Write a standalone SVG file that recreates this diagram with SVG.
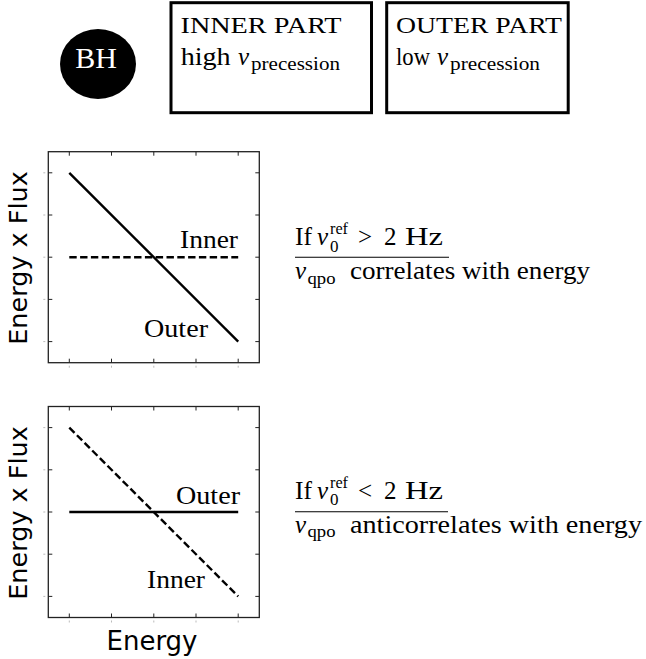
<svg xmlns="http://www.w3.org/2000/svg" width="646" height="659" viewBox="0 0 646 659">
<style>
.serif{font-family:"Liberation Serif","Times New Roman",serif;fill:#000}
.it{font-style:italic}
.sans{font-family:"DejaVu Sans","Liberation Sans",sans-serif;fill:#000}
.box{fill:#fff;stroke:#000;stroke-width:3}
.frame{fill:none;stroke:#222;stroke-width:1.3}
.tick{stroke:#222;stroke-width:1}
.otick{stroke:#aaa;stroke-width:0.8}
.solid{stroke:#000;stroke-width:2.4;fill:none;stroke-linecap:butt}
.dash{stroke:#000;stroke-width:2.4;fill:none;stroke-dasharray:7.4 3.4}
.frac{stroke:#000;stroke-width:1.1}
</style>
<defs>
<g id="ticks">
<path class="tick" d="M69.3,0v4M111.5,0v4M153.8,0v4M196,0v4M238.2,0v4M69.3,211v-4M111.5,211v-4M153.8,211v-4M196,211v-4M238.2,211v-4M48.3,21.1h4M48.3,63.3h4M48.3,105.5h4M48.3,147.7h4M48.3,189.9h4M259.3,21.1h-4M259.3,63.3h-4M259.3,105.5h-4M259.3,147.7h-4M259.3,189.9h-4"/>
<path class="otick" d="M69.3,214v2M111.5,214v2M153.8,214v2M196,214v2M238.2,214v2M45.3,21.1h-2M45.3,63.3h-2M45.3,105.5h-2M45.3,147.7h-2M45.3,189.9h-2"/>
<rect class="frame" x="48.3" y="0" width="211" height="211"/>
</g>
</defs>

<g id="bh">
<ellipse cx="98" cy="64" rx="38" ry="35" fill="#000"/>
<text class="serif" x="96" y="68" font-size="30" text-anchor="middle" style="fill:#fff">BH</text>
</g>

<g id="inner-part">
<rect class="box" x="171" y="2.7" width="200.5" height="110"/>
<text class="serif" x="180.5" y="33.3" font-size="24" textLength="161" lengthAdjust="spacingAndGlyphs">INNER PART</text>
<text class="serif" x="180.7" y="65" font-size="25" textLength="50" lengthAdjust="spacingAndGlyphs">high</text>
<text class="serif it" x="238" y="65" font-size="25">ν</text>
<text class="serif" x="251" y="69.5" font-size="18" textLength="89" lengthAdjust="spacingAndGlyphs">precession</text>
</g>

<g id="outer-part">
<rect class="box" x="386.7" y="2.7" width="181.5" height="110"/>
<text class="serif" x="396" y="33.3" font-size="24" textLength="166" lengthAdjust="spacingAndGlyphs">OUTER PART</text>
<text class="serif" x="396" y="65" font-size="25" textLength="34" lengthAdjust="spacingAndGlyphs">low</text>
<text class="serif it" x="437" y="65" font-size="25">ν</text>
<text class="serif" x="450" y="69.5" font-size="18" textLength="90" lengthAdjust="spacingAndGlyphs">precession</text>
</g>

<g id="plot1">
<use href="#ticks" transform="translate(0,151.7)"/>
<line class="solid" x1="69.3" y1="172.8" x2="238.2" y2="341.6"/>
<line class="dash" x1="69.3" y1="257.2" x2="238.2" y2="257.2"/>
<text class="serif" x="180" y="247.7" font-size="25" textLength="58" lengthAdjust="spacingAndGlyphs">Inner</text>
<text class="serif" x="144" y="336.7" font-size="25" textLength="64" lengthAdjust="spacingAndGlyphs">Outer</text>
<text class="sans" transform="translate(27,258) rotate(-90)" font-size="25.5" text-anchor="middle">Energy x Flux</text>
</g>

<g id="plot2">
<use href="#ticks" transform="translate(0,406.5)"/>
<line class="dash" x1="69.3" y1="427.6" x2="238.2" y2="596.4"/>
<line class="solid" x1="69.3" y1="512" x2="238.2" y2="512"/>
<text class="serif" x="176" y="504.3" font-size="25" textLength="64" lengthAdjust="spacingAndGlyphs">Outer</text>
<text class="serif" x="147" y="588.3" font-size="25" textLength="58" lengthAdjust="spacingAndGlyphs">Inner</text>
<text class="sans" transform="translate(27,513) rotate(-90)" font-size="25.5" text-anchor="middle">Energy x Flux</text>
<text class="sans" x="152" y="650" font-size="26" text-anchor="middle">Energy</text>
</g>

<g id="note1">
<text class="serif" x="295" y="245.3" font-size="25" textLength="17" lengthAdjust="spacingAndGlyphs">If</text>
<text class="serif it" x="317" y="245.3" font-size="25">ν</text>
<text class="serif" x="330" y="234" font-size="17" textLength="18" lengthAdjust="spacingAndGlyphs">ref</text>
<text class="serif" x="330" y="251.5" font-size="17">0</text>
<text class="serif" x="358" y="245.3" font-size="25">&gt;</text>
<text class="serif" x="384" y="245.3" font-size="25">2</text>
<text class="serif" x="405" y="245.3" font-size="25" textLength="38" lengthAdjust="spacingAndGlyphs">Hz</text>
<line class="frac" x1="295" y1="257.3" x2="449" y2="257.3"/>
<text class="serif it" x="295" y="279" font-size="25">ν</text>
<text class="serif" x="307.5" y="283.5" font-size="17" textLength="28" lengthAdjust="spacingAndGlyphs">qpo</text>
<text class="serif" x="350" y="279" font-size="25" textLength="240" lengthAdjust="spacingAndGlyphs">correlates with energy</text>
</g>

<g id="note2">
<text class="serif" x="295" y="499" font-size="25" textLength="17" lengthAdjust="spacingAndGlyphs">If</text>
<text class="serif it" x="317" y="499" font-size="25">ν</text>
<text class="serif" x="330" y="487.7" font-size="17" textLength="18" lengthAdjust="spacingAndGlyphs">ref</text>
<text class="serif" x="330" y="505.2" font-size="17">0</text>
<text class="serif" x="358" y="499" font-size="25">&lt;</text>
<text class="serif" x="384" y="499" font-size="25">2</text>
<text class="serif" x="405" y="499" font-size="25" textLength="38" lengthAdjust="spacingAndGlyphs">Hz</text>
<line class="frac" x1="295" y1="511.7" x2="448" y2="511.7"/>
<text class="serif it" x="295" y="532.7" font-size="25">ν</text>
<text class="serif" x="307.5" y="537.2" font-size="17" textLength="28" lengthAdjust="spacingAndGlyphs">qpo</text>
<text class="serif" x="350" y="532.7" font-size="25" textLength="292" lengthAdjust="spacingAndGlyphs">anticorrelates with energy</text>
</g>
</svg>
